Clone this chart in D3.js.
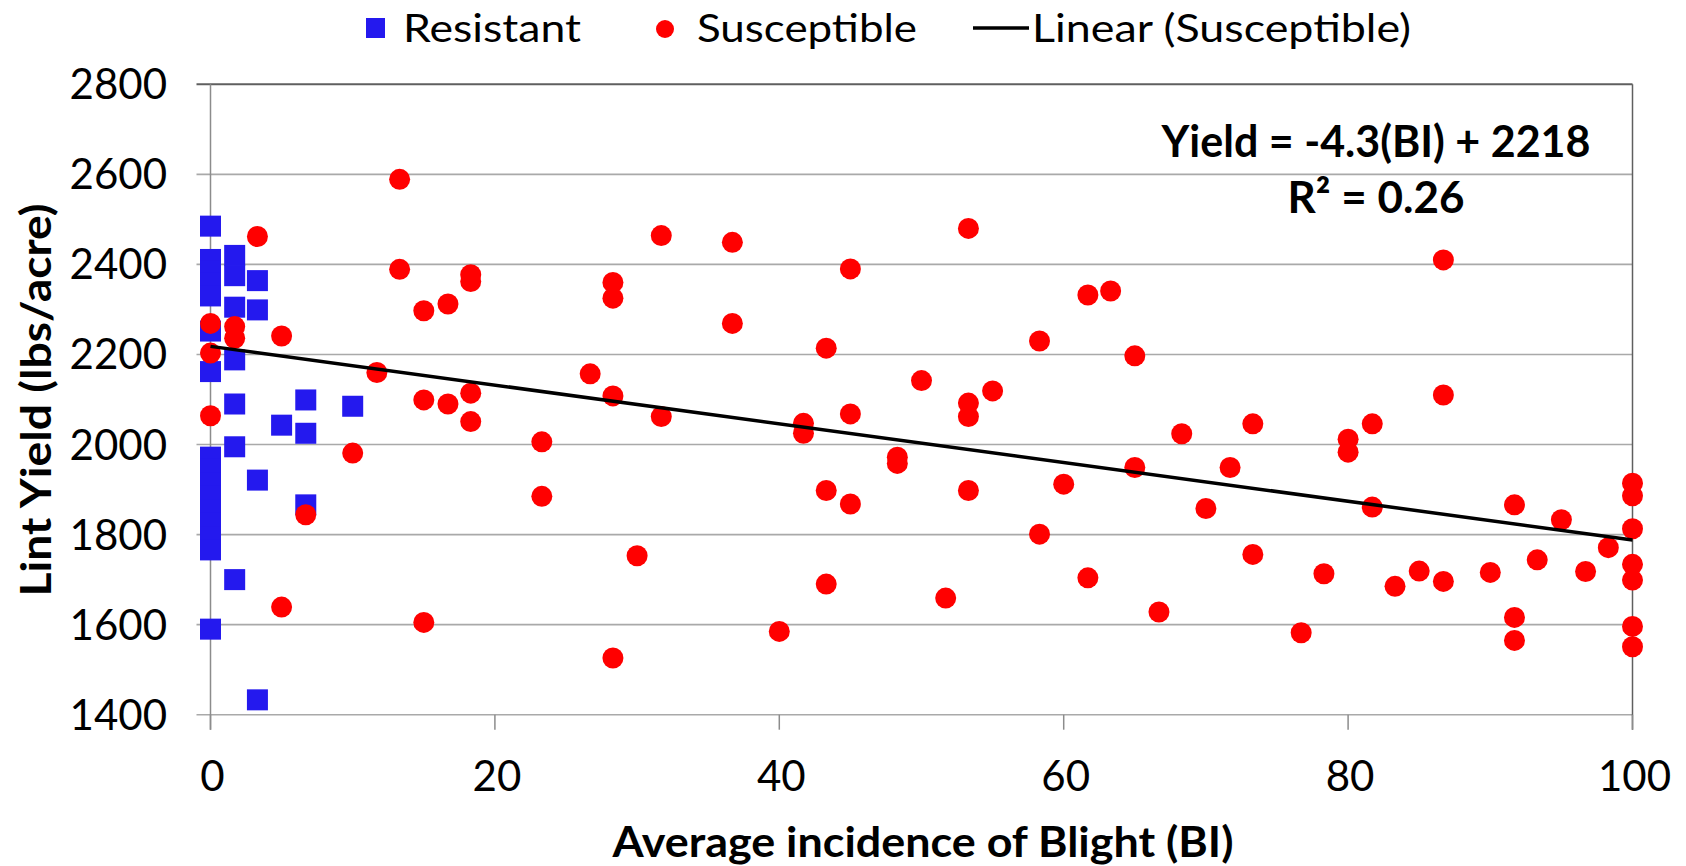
<!DOCTYPE html>
<html>
<head>
<meta charset="utf-8">
<script src="https://cdn.jsdelivr.net/npm/d3@7"></script>
<style>
  body { margin: 0; background: #fff; }
  text { font-family: Lato, "Open Sans", sans-serif; fill: #000; }
</style>
</head>
<body>
<div class="chart"></div>
<script>
// values
var resistantBI =    [0, 0, 0, 0, 0, 0, 0, 0, 0, 0, 0, 0, 0, 0, 0, 0,
                      1.7, 1.7, 1.7, 1.7, 1.7, 1.7, 1.7,
                      3.3, 3.3, 3.3, 3.3, 5.0, 6.7, 6.7, 6.7, 10.0];
var resistantYield = [2485, 2411, 2385, 2358, 2330, 2252, 2162, 1972, 1945, 1915, 1885, 1855, 1825, 1795, 1766, 1590,
                      2420, 2375, 2305, 2188, 2090, 1995, 1700,
                      2364, 2299, 1921, 1433, 2043, 2099, 2025, 1866, 2085];

var susceptibleBI = [0, 0, 0, 1.7, 1.7, 3.3, 5.0, 5.0, 6.7, 10.0, 11.7, 13.3, 13.3,
                     15.0, 15.0, 15.0, 16.7, 16.7, 18.3, 18.3, 18.3, 18.3, 23.3, 23.3, 26.7,
                     28.3, 28.3, 28.3, 28.3, 30.0, 31.7, 31.7, 36.7, 36.7, 40.0, 41.7, 41.7,
                     43.3, 43.3, 43.3, 45.0, 45.0, 45.0, 48.3, 48.3, 50.0, 51.7,
                     53.3, 53.3, 53.3, 53.3, 55.0, 58.3, 58.3, 60.0, 61.7, 61.7, 63.3,
                     65.0, 65.0, 66.7, 68.3, 70.0, 71.7, 73.3, 73.3, 76.7, 78.3, 80.0, 80.0,
                     81.7, 81.7, 83.3, 85.0, 86.7, 86.7, 86.7, 90.0, 91.7, 91.7, 91.7,
                     93.3, 95.0, 96.7, 98.3, 100, 100, 100, 100, 100, 100, 100];
var susceptibleYield = [2269, 2203, 2064, 2262, 2236, 2462, 2241, 1639, 1844, 1981, 2160, 2589, 2389,
                        2297, 2099, 1605, 2312, 2090, 2377, 2362, 2114, 2051, 2006, 1885, 2157,
                        2360, 2325, 2108, 1526, 1753, 2464, 2062, 2449, 2269, 1585, 2047, 2025,
                        2214, 1898, 1690, 2390, 2068, 1868, 1972, 1958, 2142, 1659,
                        2480, 2092, 2062, 1898, 2119, 2230, 1801, 1912, 2332, 1704, 2341,
                        2197, 1949, 1628, 2024, 1858, 1949, 2046, 1756, 1582, 1713, 2012, 1983,
                        2046, 1861, 1685, 1719, 2410, 2110, 1696, 1716, 1866, 1616, 1565,
                        1744, 1833, 1718, 1771, 1914, 1886, 1813, 1734, 1699, 1596, 1551];

// trend line (Excel linear fit of Susceptible)
var trendSlope = -4.3,
    trendIntercept = 2218;

var xTicks = [0, 20, 40, 60, 80, 100];
var yTicks = [1400, 1600, 1800, 2000, 2200, 2400, 2600, 2800];

var width = 1686,
    height = 866;
var plotLeft = 210.5, plotRight = 1632.5, plotTop = 84.3, plotBottom = 714.7;

var blue = "#2419ee",
    red = "#ff0000";

var svg = d3.select(".chart").append("svg")
    .attr("width", width)
    .attr("height", height);

var x = d3.scaleLinear().domain([0, 100]).range([plotLeft, plotRight]);
var y = d3.scaleLinear().domain([1400, 2800]).range([plotBottom, plotTop]);

// gridlines
svg.append("g").selectAll("line")
    .data(yTicks)
  .enter().append("line")
    .attr("x1", plotLeft - 14).attr("x2", plotRight)
    .attr("y1", function(d){ return y(d) }).attr("y2", function(d){ return y(d) })
    .attr("stroke", function(d){ return d == 2800 ? "#5f5f5f" : "#a9a9a9" })
    .attr("stroke-width", function(d){ return d == 2800 ? 2 : 1.6 });

// right border + y axis line
svg.append("line")
    .attr("x1", plotRight).attr("x2", plotRight).attr("y1", y(2800)).attr("y2", y(1400) + 15)
    .attr("stroke", "#5f5f5f").attr("stroke-width", 1.5);
svg.append("line")
    .attr("x1", plotLeft).attr("x2", plotLeft).attr("y1", y(2800)).attr("y2", y(1400) + 15)
    .attr("stroke", "#8c8c8c").attr("stroke-width", 1.5);

// x ticks
svg.append("g").selectAll("line")
    .data(xTicks)
  .enter().append("line")
    .attr("x1", function(d){ return x(d) }).attr("x2", function(d){ return x(d) })
    .attr("y1", plotBottom).attr("y2", plotBottom + 15)
    .attr("stroke", "#8c8c8c").attr("stroke-width", 1.5);

// tick labels
svg.append("g").selectAll("text")
    .data(yTicks)
  .enter().append("text")
    .attr("x", 167)
    .attr("y", function(d){ return y(d) + 15 })
    .attr("text-anchor", "end")
    .style("font-size", "42px")
    .text(function(d){ return d });

svg.append("g").selectAll("text")
    .data(xTicks)
  .enter().append("text")
    .attr("x", function(d){ return x(d) + 2 })
    .attr("y", 791)
    .attr("text-anchor", "middle")
    .style("font-size", "42px")
    .text(function(d){ return d });

// axis titles
svg.append("text")
    .attr("x", 923).attr("y", 857)
    .attr("text-anchor", "middle")
    .style("font-size", "42px").style("font-weight", "bold")
    .attr("textLength", 621).attr("lengthAdjust", "spacingAndGlyphs")
    .text("Average incidence of Blight (BI)");

svg.append("text")
    .attr("transform", "translate(51,400) rotate(-90)")
    .attr("text-anchor", "middle")
    .style("font-size", "42px").style("font-weight", "bold")
    .attr("textLength", 393).attr("lengthAdjust", "spacingAndGlyphs")
    .text("Lint Yield (lbs/acre)");

// resistant squares
var sq = 21;
svg.append("g").selectAll("rect")
    .data(d3.zip(resistantBI, resistantYield))
  .enter().append("rect")
    .attr("x", function(d){ return x(d[0]) - sq / 2 })
    .attr("y", function(d){ return y(d[1]) - sq / 2 })
    .attr("width", sq).attr("height", sq)
    .attr("fill", blue);

// susceptible circles
svg.append("g").selectAll("circle")
    .data(d3.zip(susceptibleBI, susceptibleYield))
  .enter().append("circle")
    .attr("cx", function(d){ return x(d[0]) })
    .attr("cy", function(d){ return y(d[1]) })
    .attr("r", 10.5)
    .attr("fill", red);

// trend line
var trend = [0, 100].map(function(b){ return [b, trendIntercept + trendSlope * b] });
svg.append("path")
    .datum(trend)
    .attr("d", d3.line().x(function(d){ return x(d[0]) }).y(function(d){ return y(d[1]) }))
    .attr("stroke", "#000").attr("stroke-width", 3.5).attr("fill", "none");

// equation
svg.append("text")
    .attr("x", 1376).attr("y", 157)
    .attr("text-anchor", "middle")
    .style("font-size", "44px").style("font-weight", "bold")
    .attr("textLength", 429).attr("lengthAdjust", "spacingAndGlyphs")
    .text("Yield = " + trendSlope + "(BI) + " + trendIntercept);
svg.append("text")
    .attr("x", 1376).attr("y", 213)
    .attr("text-anchor", "middle")
    .style("font-size", "44px").style("font-weight", "bold")
    .text("R\u00b2 = 0.26");

// legend
var legend = svg.append("g");
legend.append("rect")
    .attr("x", 366).attr("y", 18).attr("width", 19).attr("height", 20).attr("fill", blue);
legend.append("text")
    .attr("x", 403).attr("y", 42).style("font-size", "39px")
    .attr("textLength", 178).attr("lengthAdjust", "spacingAndGlyphs")
    .text("Resistant");
legend.append("circle")
    .attr("cx", 665).attr("cy", 29).attr("r", 9).attr("fill", red);
legend.append("text")
    .attr("x", 697).attr("y", 42).style("font-size", "39px")
    .attr("textLength", 220).attr("lengthAdjust", "spacingAndGlyphs")
    .text("Susceptible");
legend.append("line")
    .attr("x1", 973).attr("x2", 1029).attr("y1", 28).attr("y2", 28)
    .attr("stroke", "#000").attr("stroke-width", 3.5);
legend.append("text")
    .attr("x", 1032).attr("y", 42).style("font-size", "39px")
    .attr("textLength", 379).attr("lengthAdjust", "spacingAndGlyphs")
    .text("Linear (Susceptible)");
</script>
</body>
</html>
